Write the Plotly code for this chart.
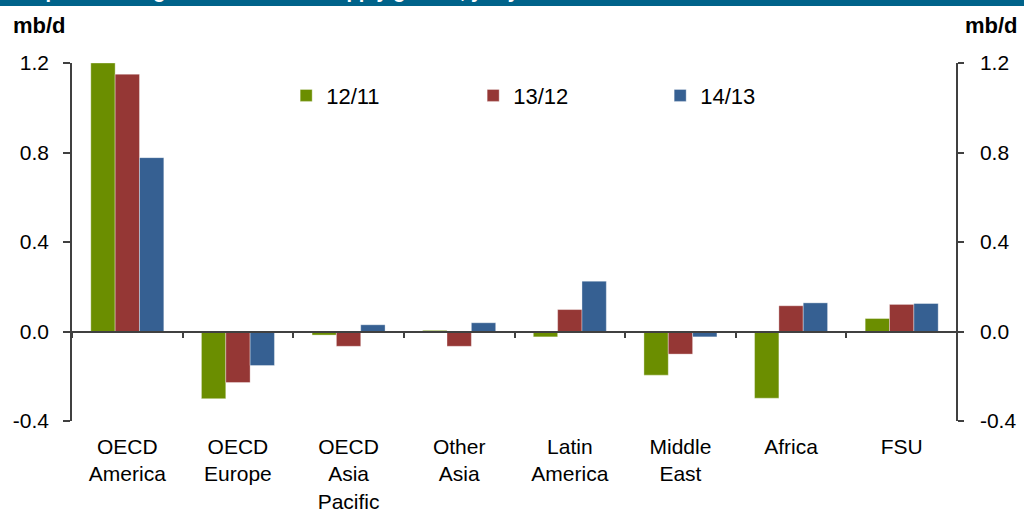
import plotly.graph_objects as go

regions = ["OECD<br>America", "OECD<br>Europe", "OECD<br>Asia<br>Pacific", "Other<br>Asia",
           "Latin<br>America", "Middle<br>East", "Africa", "FSU"]
growth_12_11 = [1.20, -0.30, -0.016, 0.005, -0.024, -0.195, -0.298, 0.058]
growth_13_12 = [1.15, -0.228, -0.066, -0.066, 0.098, -0.101, 0.115, 0.121]
growth_14_13 = [0.777, -0.152, 0.030, 0.039, 0.225, -0.024, 0.128, 0.125]
series_names = ["12/11", "13/12", "14/13"]
colors = ["#6B8E00", "#953735", "#366092"]
y_ticks = [-0.4, 0.0, 0.4, 0.8, 1.2]
y_ticklabels = ["-0.4", "0.0", "0.4", "0.8", "1.2"]

FONT = "Liberation Sans, Arial, sans-serif"

fig = go.Figure()
for name, vals, col in zip(series_names, [growth_12_11, growth_13_12, growth_14_13], colors):
    fig.add_trace(go.Bar(
        x=regions, y=vals, name=name,
        marker=dict(color=col, line=dict(color="rgba(255,255,255,0.35)", width=1)),
    ))

# helper trace so the zero-line axis (x2) gets the same categories
fig.add_trace(go.Scatter(
    x=regions, y=[0] * len(regions), xaxis="x2", yaxis="y2",
    mode="lines", line=dict(width=0), showlegend=False, hoverinfo="skip",
))

axis_col = "#404040"
yax = dict(
    range=[-0.4, 1.2], tickvals=y_ticks, ticktext=y_ticklabels,
    showline=True, linecolor=axis_col, linewidth=1.5,
    ticks="outside", tickwidth=1.5, tickcolor=axis_col,
    showgrid=False, zeroline=False, automargin=False,
)
fig.update_layout(
    template="none",
    width=1024, height=509,
    paper_bgcolor="white", plot_bgcolor="white",
    margin=dict(l=72, r=67, t=63, b=88, pad=0),
    barmode="group", bargap=0.34, bargroupgap=0,
    font=dict(family=FONT, size=21, color="black"),
    showlegend=True,
    legend=dict(
        orientation="h", x=0.242, y=0.909, xanchor="left", yanchor="middle",
        entrywidth=142, entrywidthmode="pixels",
        font=dict(size=22), bgcolor="rgba(0,0,0,0)", traceorder="normal",
    ),
    xaxis=dict(
        range=[-0.5, 7.5], showline=False, ticks="", showgrid=False, zeroline=False,
        tickfont=dict(size=21), ticklabelstandoff=11, automargin=False,
    ),
    xaxis2=dict(
        overlaying="x", anchor="free", position=0.25, range=[-0.5, 7.5],
        showline=True, linecolor=axis_col, linewidth=1.5,
        ticks="outside", ticklen=6, tickwidth=1.5, tickcolor=axis_col,
        tickson="boundaries", showticklabels=False, showgrid=False, zeroline=False,
        automargin=False,
    ),
    yaxis=dict(yax, ticklen=7, ticklabelstandoff=10),
    yaxis2=dict(yax, overlaying="y", side="right", anchor="free", position=1,
                ticklen=6, ticklabelstandoff=12),
    shapes=[dict(
        type="rect", xref="paper", yref="paper",
        x0=-0.1, x1=1.2, y0=1.1592, y1=1.3,
        fillcolor="#00638A", line=dict(width=0), layer="above",
    )],
    annotations=[
        dict(text="<b>Graph 3 - 4: Regional non-OPEC supply growth, y-o-y</b>",
             xref="paper", yref="paper", x=-0.071, y=1.166, xanchor="left", yanchor="bottom",
             showarrow=False, font=dict(size=20, color="white")),
        dict(text="<b>mb/d</b>", xref="paper", yref="paper", x=-0.069, y=1.106,
             xanchor="left", yanchor="middle", showarrow=False, font=dict(size=22)),
        dict(text="<b>mb/d</b>", xref="paper", yref="paper", x=1.071, y=1.106,
             xanchor="right", yanchor="middle", showarrow=False, font=dict(size=22)),
    ],
)

fig.write_html("out.html", config={"displayModeBar": False},
               post_script="document.body.style.margin='0';")
